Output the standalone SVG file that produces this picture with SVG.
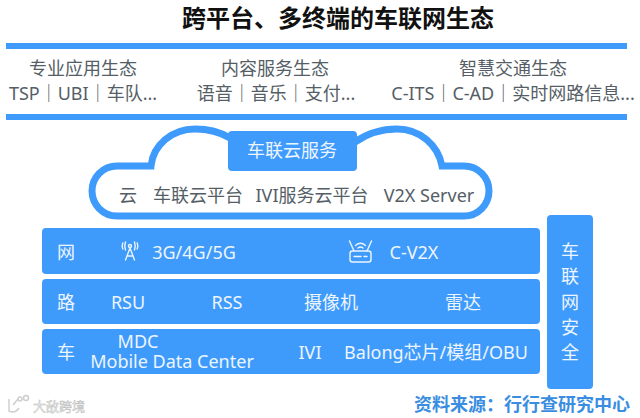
<svg xmlns="http://www.w3.org/2000/svg" width="640" height="418" viewBox="0 0 640 418">
<style>
text{font-family:"Noto Sans","Noto Sans CJK SC",sans-serif;text-anchor:middle}
.b{fill:#3f9bfb}
.g{fill:#555e66;font-size:18px}
.w{fill:#edf5ff;font-size:18px}
.ic{fill:none;stroke:#edf5ff;stroke-width:1.400;stroke-linecap:round}
</style>
<rect width="640" height="418" fill="#fff"/>
<text id="title" x="338" y="27" font-size="24" font-weight="700" fill="#111">跨平台、多终端的车联网生态</text>
<g id="bars"><rect class="b" x="6" y="43" width="621" height="6"/><rect class="b" x="6" y="114" width="621" height="6"/></g>
<g id="eco1"><text class="g" x="83" y="75">专业应用生态</text><text class="g" x="83" y="100">TSP｜UBI｜车队...</text></g>
<g id="eco2"><text class="g" x="275" y="75">内容服务生态</text><text class="g" x="276" y="100">语音｜音乐｜支付...</text></g>
<g id="eco3"><text class="g" x="513" y="75">智慧交通生态</text><text class="g" x="513" y="100">C-ITS｜C-AD｜实时网路信息...</text></g>
<g id="connectors"></g>
<g id="cloud">
<path d="M230 138C220 132 208 129 195 129C172 129 153 145 151 166H117A25 25 0 0 0 117 216H464A25 25 0 0 0 464 166H442C438 145 420 129 397 129C382 129 368 133 355 142" fill="#fff" stroke="#3f9bfb" stroke-width="7"/>
<rect class="b" x="228" y="131" width="129" height="40" rx="4"/>
<text class="w" x="292" y="157">车联云服务</text>
<text class="g" x="128" y="202">云</text><text class="g" x="198" y="202">车联云平台</text><text class="g" x="312" y="202">IVI服务云平台</text><text class="g" x="429" y="202">V2X Server</text>
</g>
<g id="net"><rect class="b" x="42" y="228" width="498" height="46" rx="4"/>
<text class="w" x="66" y="259">网</text>
<g class="ic"><path d="M130 248L125.500 260M130 248L134.500 260M127 256H133"/><circle cx="130" cy="246" r="1.500"/><path d="M125.500 242Q124 246 125.500 250M134.500 242Q136 246 134.500 250M122.800 243Q121.500 246 122.800 249M137.200 243Q138.500 246 137.200 249"/></g>
<text class="w" x="194" y="259">3G/4G/5G</text>
<g class="ic"><rect x="350" y="251" width="21" height="11" rx="2.500"/><path d="M349.500 241L354 251M371.500 241L367 251M355.500 245.500Q360.500 241 365.500 245.500M358 248Q360.500 246 363 248M354 256.500H361M364 256.500H367"/></g>
<text class="w" x="414" y="259">C-V2X</text></g>
<g id="road"><rect class="b" x="42" y="279" width="498" height="45" rx="4"/>
<text class="w" x="66" y="309">路</text><text class="w" x="128" y="309">RSU</text><text class="w" x="227" y="309">RSS</text><text class="w" x="331" y="309">摄像机</text><text class="w" x="463" y="309">雷达</text></g>
<g id="car"><rect class="b" x="42" y="329" width="498" height="45" rx="4"/>
<text class="w" x="66" y="359">车</text><text class="w" x="138" y="348">MDC</text><text class="w" x="172" y="368">Mobile Data Center</text><text class="w" x="310" y="359">IVI</text><text class="w" x="436" y="359">Balong芯片/模组/OBU</text></g>
<g id="security"><rect class="b" x="547" y="215" width="46" height="174" rx="4"/>
<text class="w" x="570" y="258">车</text><text class="w" x="570" y="283">联</text><text class="w" x="570" y="309">网</text><text class="w" x="570" y="334">安</text><text class="w" x="570" y="359">全</text></g>
<text id="source" x="522" y="411" font-size="18" font-weight="700" fill="#3a8de0">资料来源：行行查研究中心</text>
<text id="watermark" x="59" y="411" font-size="13" fill="#f4f4f4" stroke="#bdbdbd" stroke-width="0.500">大敌跨境</text>
<g id="logo" fill="none" stroke="#cfcfcf" stroke-width="1.500"><path d="M9 399V411Q15 414 19 408M13 405L18 399"/><circle cx="20" cy="399" r="2"/><circle cx="26" cy="398" r="2.500"/></g>
</svg>
